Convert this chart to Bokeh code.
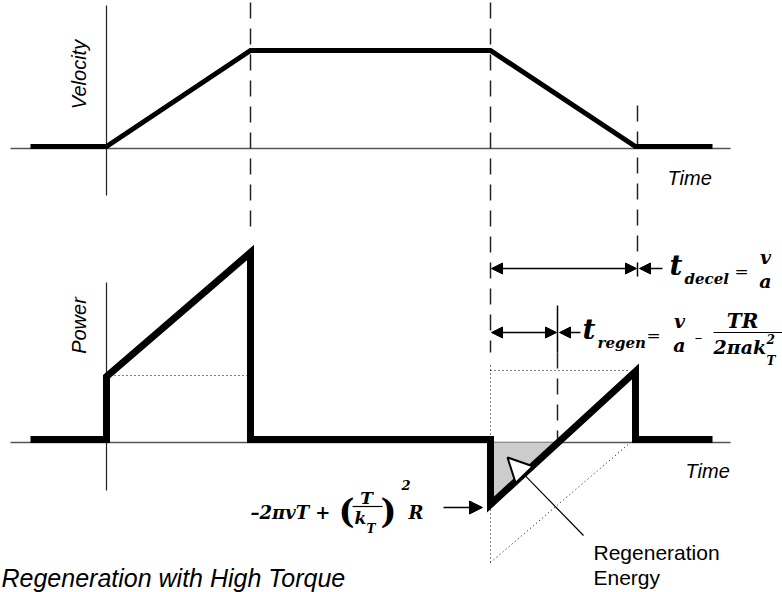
import math
from bokeh.plotting import figure
from bokeh.models import Range1d, Arrow, NormalHead
from bokeh.core.properties import value
from bokeh.embed import file_html
from bokeh.resources import INLINE

# ---- schematic data (time positions and signal levels, in diagram units) ----
vel_t = [30, 106, 250, 490, 635, 712]
vel_y = [146, 146, 50, 50, 146, 146]
pow_t = [30, 106, 106, 250, 250, 490, 490, 635, 635, 712]
pow_y = [439, 439, 376, 252, 439, 439, 504, 371, 439, 439]
t_accel_end = 250
t_decel_start = 490
t_decel_end = 635
t_regen_end = 557
vel_axis_y = 148
pow_axis_y = 442
axis_x = 106
regen_tri_x = [491, 556, 491]
regen_tri_y = [442, 442, 502]

SANS = "Liberation Sans"
SERIF = "DejaVu Serif"

p = figure(width=782, height=592, x_range=Range1d(0, 782), y_range=Range1d(592, 0),
           output_backend="svg", toolbar_location=None, min_border=0)
p.axis.visible = False
p.grid.visible = False
p.outline_line_color = None
p.background_fill_color = "white"

AX = "#555555"
# axes
p.line([10, 730], [vel_axis_y, vel_axis_y], line_color=AX, line_width=1.5)
p.line([axis_x, axis_x], [5, 195], line_color="#222222", line_width=1.2)
p.line([10, 730], [pow_axis_y, pow_axis_y], line_color=AX, line_width=1.5)
p.line([axis_x, axis_x], [282, 490], line_color="#222222", line_width=1.2)

# dashed guides
DASH = "16 10"
p.line([t_accel_end, t_accel_end], [2, 226], line_color="#222222", line_width=1.5, line_dash=DASH)
p.line([t_decel_start, t_decel_start], [2, 352], line_color="#222222", line_width=1.5, line_dash=DASH)
p.line([t_decel_end + 2, t_decel_end + 2], [105, 256], line_color="#222222", line_width=1.5, line_dash=DASH)
p.line([t_regen_end, t_regen_end], [352, 438], line_color="#222222", line_width=1.5, line_dash=DASH)
# solid ticks
p.line([t_decel_end + 2, t_decel_end + 2], [262, 276], line_color="black", line_width=1.5)
p.line([t_regen_end, t_regen_end], [305, 352], line_color="black", line_width=1.5)

# dotted construction lines
DOT = "1 3"
p.line([110, 247], [375, 375], line_color="black", line_width=1, line_dash=DOT)
p.line([t_decel_start, 630], [370, 370], line_color="black", line_width=1, line_dash=DOT)
p.line([t_decel_start, t_decel_start], [365, 562], line_color="black", line_width=1, line_dash=DOT)
p.line([t_decel_start, 630], [562, 442], line_color="black", line_width=1, line_dash=DOT)

# regeneration energy area
p.patch(regen_tri_x, regen_tri_y, fill_color="#cccccc", line_color=None)

# signals
p.line(vel_t, vel_y, line_color="black", line_width=5, line_join="miter")
p.line(pow_t, pow_y, line_color="black", line_width=7, line_join="miter")

# arrows
def arrow(x0, y0, x1, y1, both=False, size=11):
    p.add_layout(Arrow(x_start=x0, y_start=y0, x_end=x1, y_end=y1,
                       line_color="black", line_width=1.5,
                       end=NormalHead(size=size, fill_color="black", line_color="black"),
                       start=NormalHead(size=size, fill_color="black", line_color="black") if both else None))

arrow(t_decel_start + 1, 268, t_decel_end + 1, 268, both=True)
arrow(662, 268, 639, 268)
arrow(t_decel_start + 1, 332, t_regen_end - 1, 332, both=True)
arrow(580, 332, 559, 332)
arrow(443, 507, 482, 507, size=13)
p.add_layout(Arrow(x_start=583, y_start=535, x_end=507, y_end=457,
                   line_color="black", line_width=1.2,
                   end=NormalHead(size=24, fill_color="white", line_color="black", line_width=2)))

# axis labels
p.text(x=[78], y=[74], text=["Velocity"], angle=math.pi / 2, text_font=value(SANS),
       text_font_size=value("20px"), text_font_style="italic", text_align="center",
       text_baseline="middle", text_color="black")
p.text(x=[78], y=[325], text=["Power"], angle=math.pi / 2, text_font=value(SANS),
       text_font_size=value("20px"), text_font_style="italic", text_align="center",
       text_baseline="middle", text_color="black")
p.text(x=[667, 685], y=[177, 470], text=["Time", "Time"], text_font=value(SANS),
       text_font_size=value("20px"), text_font_style="italic", text_align="left",
       text_baseline="middle", text_color="black")
p.text(x=[593, 593], y=[552, 577], text=["Regeneration", "Energy"], text_font=value(SANS),
       text_font_size=value("21px"), text_align="left", text_baseline="middle", text_color="black")
p.text(x=[1], y=[591], text=["Regeneration with High Torque"], text_font=value(SANS),
       text_font_size=value("25px"), text_font_style="italic", text_align="left",
       text_baseline="bottom", text_color="black")

def mt(x, y, s, size, align="left", style="bold italic"):
    p.text(x=[x], y=[y], text=[s], text_font=value(SERIF), text_font_size=value(size),
           text_font_style=style, text_align=align, text_baseline="middle", text_color="black")

# t_decel = v / a
mt(669, 265, "t", "28px")
mt(684, 278, "decel", "15px")
mt(741, 270, "=", "17px", "center", "normal")
mt(765, 256, "v", "19px", "center")
mt(765, 280, "a", "19px", "center")

# t_regen = v/a - TR / (2 pi a k_T^2)
mt(582, 329, "t", "28px")
mt(597, 342, "regen", "15px")
mt(653, 334, "=", "17px", "center", "normal")
mt(679, 320, "v", "19px", "center")
mt(679, 344, "a", "19px", "center")
mt(698, 336, "–", "15px", "center", "normal")
mt(742, 320, "TR", "20px", "center")
p.line([713, 782], [332, 332], line_color="black", line_width=1.2)
mt(713, 346, "2πak", "19px")
mt(766, 338, "2", "12px")
mt(766, 360, "T", "12px")

# -2 pi v T + (T/k_T)^2 R
mt(250, 512, "–2πvT +", "18px")
mt(346, 510, "(", "34px", "center", "bold")
mt(366, 497, "T", "17px", "center")
p.line([352, 382], [506, 506], line_color="black", line_width=1.2)
mt(354, 517, "k", "17px")
mt(366, 528, "T", "12px")
mt(388, 510, ")", "34px", "center", "bold")
mt(401, 484, "2", "13px")
mt(408, 512, "R", "18px")

open("out.html", "w").write(file_html(p, INLINE))
